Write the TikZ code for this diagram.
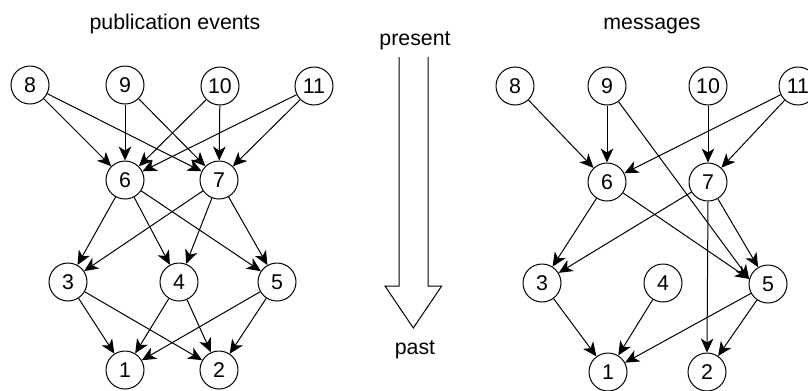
\documentclass[tikz,border=0pt]{standalone}
\usepackage{fontspec}
\setmainfont{Liberation Sans}
\usetikzlibrary{arrows.meta}
\begin{document}
\begin{tikzpicture}[x=0.75pt,y=-0.75pt,
  every node/.style={font=\fontsize{16}{19}\selectfont},
  circ/.style={draw,circle,line width=0.75pt,minimum size=28.5pt,inner sep=0pt},
  edge/.style={line width=0.75pt,-{Stealth[length=10.5pt,width=9.5pt,inset=3pt]}},
  ttl/.style={anchor=base}]
\useasboundingbox (0,0) rectangle (808,390);
% left graph
\node[circ] (a8) at (30,85) {8};
\node[circ] (a9) at (125,85) {9};
\node[circ] (a10) at (220,86) {10};
\node[circ] (a11) at (314,86) {11};
\node[circ] (a6) at (125,180) {6};
\node[circ] (a7) at (219,180) {7};
\node[circ] (a3) at (68,282) {3};
\node[circ] (a4) at (179,282) {4};
\node[circ] (a5) at (277,282) {5};
\node[circ] (a1) at (125,370) {1};
\node[circ] (a2) at (219,370) {2};
\foreach \s/\t in {8/6,8/7,9/6,9/7,10/6,10/7,11/6,11/7,6/3,6/4,6/5,7/3,7/4,7/5,3/1,3/2,4/1,4/2,5/1,5/2}
  \draw[edge] (a\s) -- (a\t);
\node[ttl] (t1) at (175,29) {publication events};
% middle arrow
\node[ttl] (tp) at (415,45) {present};
\node[ttl] (tq) at (415,354) {past};
\draw[line width=0.75pt,line join=miter] (399,57) -- (399,286) -- (385,286) -- (413.3,328) -- (441.7,286) -- (428,286) -- (428,57);
% right graph
\node[circ] (b8) at (515,86) {8};
\node[circ] (b9) at (607,86) {9};
\node[circ] (b10) at (708,86) {10};
\node[circ] (b11) at (798,86) {11};
\node[circ] (b6) at (607,182) {6};
\node[circ] (b7) at (708,182) {7};
\node[circ] (b3) at (542,283) {3};
\node[circ] (b4) at (663,283) {4};
\node[circ] (b5) at (768,284) {5};
\node[circ] (b1) at (608,372) {1};
\node[circ] (b2) at (707,372) {2};
\foreach \s/\t in {8/6,9/6,10/7,11/6,11/7,6/3,7/3,7/5,3/1,4/1,5/1,5/2}
  \draw[edge] (b\s) -- (b\t);
\draw[edge] (b9) -- (b5.165);
\draw[edge] (b6) -- (b5.165);
\draw[edge] (b7.south) -- (b2.north);
\node[ttl] (t2) at (652,29) {messages};
\end{tikzpicture}
\end{document}
